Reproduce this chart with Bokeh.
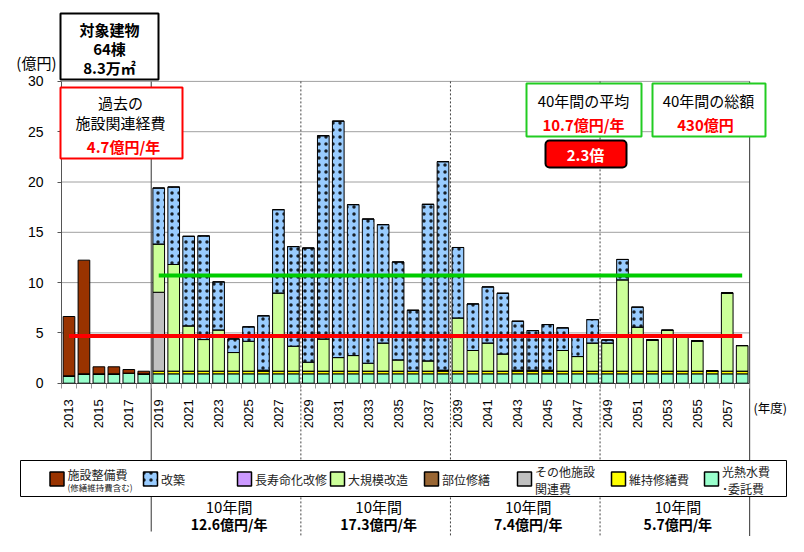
import math
from bokeh.plotting import figure
from bokeh.models import (Range1d, LinearAxis, FixedTicker, Label, BoxAnnotation,
                          ColumnDataSource)
from bokeh.embed import file_html
from bokeh.resources import INLINE

# ---------------- data (億円) ----------------
years = list(range(2013, 2059))
# 光熱水費・委託費
utility = [0.73, 0.93, 0.93, 0.93, 1.00, 0.93,
           0.93, 0.93, 0.93, 0.93, 0.93, 0.93, 0.93, 0.93, 0.93, 0.93,
           0.93, 0.93, 0.93, 0.93, 0.93, 0.93, 0.93, 0.93, 0.93, 0.93,
           0.93, 0.93, 0.93, 0.93, 0.93, 0.93, 0.93, 0.93, 0.93, 0.93,
           0.93, 0.93, 0.93, 0.93, 0.93, 0.93, 0.93, 0.93, 0.93, 0.93]
# 維持修繕費
maintenance = [0, 0, 0, 0, 0, 0,
               0.27, 0.27, 0.27, 0.27, 0.27, 0.27, 0.27, 0.27, 0.27, 0.27,
               0.27, 0.27, 0.27, 0.27, 0.27, 0.27, 0.27, 0.27, 0.27, 0.27,
               0.27, 0.27, 0.27, 0.27, 0.27, 0.27, 0.27, 0.27, 0.27, 0.27,
               0.27, 0.27, 0.27, 0.27, 0.27, 0.27, 0.27, 0.27, 0.27, 0.27]
# 部位修繕
partial = [0, 0, 0, 0, 0, 0,
           0, 0, 0, 0, 0, 0, 0, 0, 0, 0,
           0, 0, 0, 0, 0, 0, 0, 0, 0, 0,
           0, 0, 0, 0, 0, 0, 0, 0, 0, 0,
           0, 0, 0, 0, 0, 0, 0, 0, 0, 0]
# その他施設関連費
other = [0, 0, 0, 0, 0, 0,
         7.84, 0, 0, 0, 0, 0, 0, 0, 0, 0,
         0, 0, 0, 0, 0, 0, 0, 0, 0, 0,
         0, 0, 0, 0, 0, 0, 0, 0, 0, 0,
         0, 0, 0, 0, 0, 0, 0, 0, 0, 0]
# 大規模改造
large = [0, 0, 0, 0, 0, 0,
         4.80, 10.60, 4.50, 3.14, 4.10, 1.85, 2.97, 0.10, 7.77, 2.48,
         0.89, 3.20, 1.35, 1.55, 0.79, 2.80, 1.12, 0.00, 1.02, 0.10,
         5.29, 2.05, 2.80, 1.71, 0.10, 0.10, 0.10, 2.05, 1.45, 2.80,
         2.80, 9.08, 4.38, 3.10, 4.06, 3.44, 3.00, 0.00, 7.77, 2.54]
# 長寿命化改修
longlife = [0, 0, 0, 0, 0, 0,
            0, 0, 0, 0, 0, 0, 0, 0, 0, 0,
            0, 0, 0, 0, 0, 0, 0, 0, 0, 0,
            0, 0, 0, 0, 0, 0, 0, 0, 0, 0,
            0, 0, 0, 0, 0, 0, 0, 0, 0, 0]
# 改築
rebuild = [0, 0, 0, 0, 0, 0,
           5.56, 7.70, 8.90, 10.30, 4.77, 1.35, 1.43, 5.40, 8.28, 9.90,
           11.35, 20.20, 23.50, 15.00, 14.33, 11.76, 9.73, 6.05, 15.56, 20.72,
           7.00, 4.63, 5.57, 6.03, 4.86, 3.93, 4.53, 2.25, 1.92, 2.32,
           0.30, 2.02, 1.98, 0, 0, 0, 0, 0, 0, 0]
# 施設整備費（修繕維持費含む）
facility = [5.90, 11.30, 0.70, 0.70, 0.36, 0.26,
            0, 0, 0, 0, 0, 0, 0, 0, 0, 0,
            0, 0, 0, 0, 0, 0, 0, 0, 0, 0,
            0, 0, 0, 0, 0, 0, 0, 0, 0, 0,
            0, 0, 0, 0, 0, 0, 0, 0, 0, 0]

past_avg = 4.7          # 過去の施設関連経費 (億円/年)
future_avg = 10.7       # 40年間の平均
past_years = (2013, 2058)
future_years = (2019, 2058)
y_ticks = [0, 5, 10, 15, 20, 25, 30]
x_tick_years = [2013, 2015, 2017, 2019, 2021, 2023, 2025, 2027, 2029, 2031,
                2033, 2035, 2037, 2039, 2041, 2043, 2045, 2047, 2049, 2051,
                2053, 2055, 2057]
x_tick_labels = ["2013", "2015", "2017", "2019", "2021", "2023", "2025", "2027",
                 "2029", "2031", "2033", "2035", "2037", "2039", "2041", "2043",
                 "2045", "2047", "2049", "2051", "2053", "2055", "2057"]
decade_bounds = [2018.5, 2028.5, 2038.5, 2048.5, 2058.5]
decade_values = ["12.6億円/年", "17.3億円/年", "7.4億円/年", "5.7億円/年"]

# ---------------- styles ----------------
stack_keys = ["utility", "maintenance", "partial", "other", "large",
              "longlife", "rebuild", "facility"]
colors = {"utility": "#99FFCC", "maintenance": "#FFFF00", "partial": "#996633",
          "other": "#C0C0C0", "large": "#CCFF99", "longlife": "#CC99FF",
          "rebuild": "#99CCFF", "facility": "#993300"}
JP = "Noto Sans CJK JP"
LAT = "Liberation Sans"

# layout helpers: canvas pixel -> data coordinates
PX_YEAR = 14.96
PX_UNIT = 10.06
LEFT_PX = 61.0
ZERO_PX = 382.7
def dx(X):
    return 2012.5 + (X - LEFT_PX) / PX_YEAR
def dy(Y):
    return (ZERO_PX - Y) / PX_UNIT

W, H = 788, 536
p = figure(width=W, height=H, output_backend="svg", toolbar_location=None,
           x_range=Range1d(dx(0), dx(W)), y_range=Range1d(dy(H), dy(0)),
           x_axis_location=None, y_axis_location=None, min_border=0,
           outline_line_color=None, background_fill_color="white")
p.grid.grid_line_color = None

# axes (fixed in the frame)
yaxis = LinearAxis(fixed_location=2012.5, bounds=(0, 30),
                   ticker=FixedTicker(ticks=y_ticks))
yaxis.axis_line_color = "#555555"
yaxis.major_tick_out = 4
yaxis.major_tick_in = 0
yaxis.major_tick_line_color = "#555555"
yaxis.minor_tick_line_color = None
yaxis.major_label_standoff = 14
yaxis.major_label_text_font = LAT
yaxis.major_label_text_font_size = "14px"
yaxis.major_label_text_color = "black"
p.add_layout(yaxis, "left")

xaxis = LinearAxis(fixed_location=0, bounds=(2012.5, 2058.5),
                   ticker=FixedTicker(ticks=x_tick_years,
                                      minor_ticks=[y - 0.5 for y in years] + [2058.5]))
xaxis.major_label_overrides = dict(zip(x_tick_years, x_tick_labels))
xaxis.axis_line_color = "#333333"
xaxis.major_tick_out = 0
xaxis.major_tick_in = 0
xaxis.minor_tick_out = 5
xaxis.minor_tick_in = 0
xaxis.minor_tick_line_color = "#999999"
xaxis.major_label_orientation = math.pi / 2
xaxis.major_label_standoff = 11
xaxis.major_label_text_font = LAT
xaxis.major_label_text_font_size = "13px"
xaxis.major_label_text_color = "black"
p.add_layout(xaxis, "below")

# grid lines
p.segment(x0=[2012.5] * 6, x1=[2058.5] * 6, y0=y_ticks[1:], y1=y_ticks[1:],
          line_color="#A0A0A0", line_width=1)

# separators
bottom_y = dy(H)
p.segment(x0=[2018.5], x1=[2018.5], y0=[30], y1=[dy(531)], line_color="#555555", line_width=1.2)
p.segment(x0=decade_bounds[1:4], x1=decade_bounds[1:4], y0=[30] * 3, y1=[bottom_y] * 3,
          line_color="#444444", line_width=1, line_dash="2 2")
p.segment(x0=[2058.5], x1=[2058.5], y0=[30], y1=[bottom_y], line_color="#333333", line_width=1)

# bars
src = ColumnDataSource(dict(year=years, utility=utility, maintenance=maintenance,
                            partial=partial, other=other, large=large,
                            longlife=longlife, rebuild=rebuild, facility=facility))
p.vbar_stack(stack_keys, x="year", width=0.78, source=src,
             fill_color=[colors[k] for k in stack_keys],
             line_color="black", line_width=1,
             hatch_pattern=["." if k == "rebuild" else " " for k in stack_keys],
             hatch_color="black", hatch_scale=7, hatch_weight=0.6, hatch_alpha=0.85)

# average lines
p.line(x=list(past_years), y=[past_avg, past_avg], line_color="#FF0000", line_width=4)
p.line(x=list(future_years), y=[future_avg, future_avg], line_color="#00CC00", line_width=4)

# boxes
def box(X0, X1, Y0, Y1, line, fill="white", lw=2, radius=0):
    b = BoxAnnotation(left=dx(X0), right=dx(X1), top=dy(Y0), bottom=dy(Y1),
                      fill_color=fill, fill_alpha=1, line_color=line,
                      line_alpha=1, line_width=lw, border_radius=radius)
    p.add_layout(b)

def txt(X, Y, s, size, color="black", bold=False, align="center", font=JP):
    p.add_layout(Label(x=dx(X), y=dy(Y), text=s, text_align=align,
                       text_baseline="middle", text_font=font,
                       text_font_size=f"{size}px", text_color=color,
                       text_font_style="bold" if bold else "normal"))

box(60, 158, 13, 79, "black")
box(60, 182, 87, 158, "#FF0000")
box(526, 641, 83, 136, "#22CC22")
box(652, 765, 83, 136, "#22CC22")
box(545, 626, 140, 167, "black", fill="#FF0000", radius=4)

txt(109, 29, "対象建物", 15, bold=True)
txt(109, 47.5, "64棟", 15, bold=True)
txt(109, 67, "8.3万㎡", 15, bold=True)
txt(120, 101.5, "過去の", 15)
txt(120, 121.5, "施設関連経費", 15)
txt(123, 146, "4.7億円/年", 15, color="#FF0000", bold=True)
txt(583, 100, "40年間の平均", 15)
txt(583, 123.5, "10.7億円/年", 15, color="#FF0000", bold=True)
txt(708, 100, "40年間の総額", 15)
txt(705, 123.5, "430億円", 15, color="#FF0000", bold=True)
txt(585, 154, "2.3倍", 15, color="white", bold=True)
txt(56, 62, "(億円)", 15, align="right")
txt(753, 407, "(年度)", 12.5, align="left")

# legend box (glyphs so that swatches draw above it)
LY = 460   # legend top
p.quad(left=[dx(20)], right=[dx(786)], top=[dy(LY)], bottom=[dy(LY + 36)],
       fill_color="white", line_color="black", line_width=1)
legend_keys = ["facility", "rebuild", "longlife", "large", "partial", "other",
               "maintenance", "utility"]
legend_lines = [["施設整備費", "(修繕維持費含む)"], ["改築"], ["長寿命化改修"],
                ["大規模改造"], ["部位修繕"], ["その他施設", "関連費"],
                ["維持修繕費"], ["光熱水費", "･委託費"]]
sw_x = [56.5, 150, 244, 337, 431, 524, 618, 711]
mid = LY + 18.5
for k, lines, cx in zip(legend_keys, legend_lines, sw_x):
    p.quad(left=[dx(cx - 7)], right=[dx(cx + 7)], top=[dy(mid - 7)], bottom=[dy(mid + 7)],
           fill_color=colors[k], line_color="black", line_width=1.5,
           hatch_pattern="." if k == "rebuild" else " ", hatch_color="black",
           hatch_scale=7, hatch_weight=0.6, hatch_alpha=0.85)
    tx = cx + 10.5
    if len(lines) == 1:
        txt(tx, mid, lines[0], 12, color="#222222", align="left")
    elif k == "facility":
        txt(tx, mid - 4.5, lines[0], 12, color="#222222", align="left")
        txt(tx, mid + 8, lines[1], 8.5, color="#222222", align="left")
    else:
        txt(tx, mid - 7.5, lines[0], 12, color="#222222", align="left")
        txt(tx, mid + 9, lines[1], 12, color="#222222", align="left")

# decade summaries
for i, val in enumerate(decade_values):
    cxd = (decade_bounds[i] + decade_bounds[i + 1]) / 2
    X = LEFT_PX + (cxd - 2012.5) * PX_YEAR + 3
    txt(X, 506, "10年間", 15)
    txt(X, 523, val, 14, bold=True)

open("out.html", "w").write(file_html(p, INLINE))
